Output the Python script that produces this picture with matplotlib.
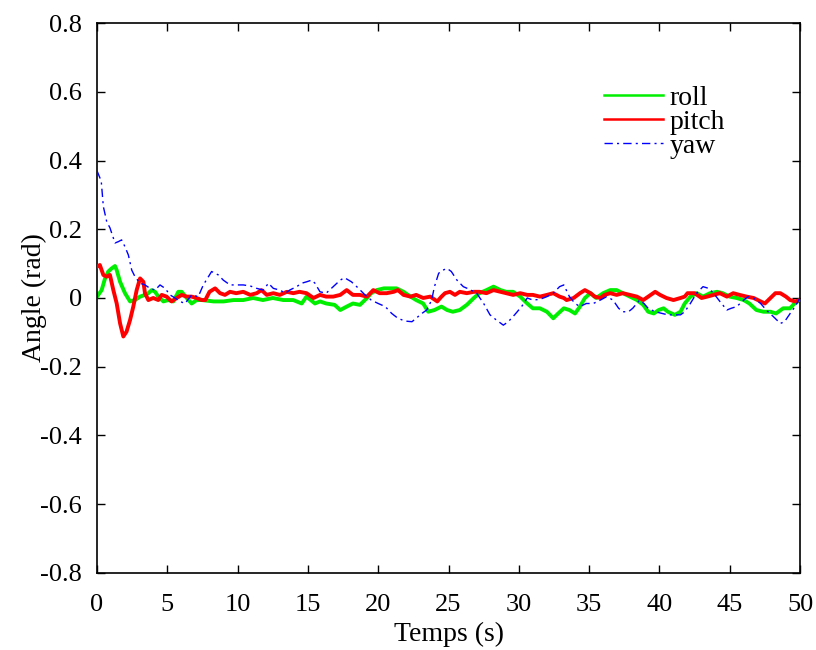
import matplotlib
matplotlib.use("Agg")
import matplotlib.pyplot as plt

# ---- data ----
yaw_t = [0, 0.3, 0.45, 0.69, 0.92, 1.28, 1.52, 1.75, 1.99, 2.23, 2.47, 2.70, 3.06, 3.41, 3.77,
         4.13, 4.48, 4.84, 5.19, 5.55, 5.9, 6.26, 6.73, 7.2, 7.56, 8.15, 8.63, 8.98, 9.46, 9.94,
         10.4, 10.9, 11.36, 11.83, 12.19, 12.54, 13.0, 13.4, 13.7, 14.2, 14.56, 14.9, 15.27, 15.5,
         15.86, 16.3, 16.8, 17.3, 17.6, 18.1, 18.6, 19.06, 19.5, 20.0, 20.5, 20.96, 21.4, 21.9,
         22.4, 22.7, 23.1, 23.45, 23.8, 24.0, 24.3, 24.6, 24.9, 25.2, 25.6, 26.05, 26.5, 27.0,
         27.5, 27.95, 28.4, 28.9, 29.25, 29.7, 30.2, 30.6, 31.0, 31.5, 32.0, 32.45, 32.9, 33.2,
         33.6, 34.0, 34.35, 34.8, 35.3, 35.8, 36.25, 36.7, 37.1, 37.4, 37.8, 38.1, 38.6, 38.9,
         39.2, 39.7, 40.2, 40.6, 41.1, 41.5, 41.8, 42.2, 42.65, 43.1, 43.5, 43.85, 44.3, 44.8,
         45.1, 45.5, 46.0, 46.3, 46.7, 47.2, 47.6, 48.1, 48.6, 48.9, 49.3, 49.65, 50.0]
yaw_v = [0.37, 0.34, 0.266, 0.222, 0.204, 0.16, 0.164, 0.169, 0.149, 0.125, 0.081, 0.062, 0.043,
         0.038, 0.028, 0.023, 0.038, 0.028, 0.009, 0.0, -0.01, -0.016, 0.009, 0.004, 0.038, 0.077,
         0.067, 0.052, 0.038, 0.038, 0.038, 0.035, 0.028, 0.023, 0.043, 0.028, 0.023, 0.014, 0.023,
         0.033, 0.043, 0.047, 0.052, 0.043, 0.018, 0.014, 0.033, 0.052, 0.059, 0.047, 0.028, 0.009,
         -0.006, -0.016, -0.025, -0.045, -0.059, -0.067, -0.069, -0.059, -0.045, -0.035, -0.006,
         0.033, 0.072, 0.081, 0.086, 0.077, 0.052, 0.033, 0.025, 0.014, -0.016, -0.049, -0.064,
         -0.079, -0.069, -0.049, -0.025, 0.0, -0.006, -0.004, 0.004, 0.014, 0.033, 0.038, 0.004,
         -0.016, -0.025, -0.016, -0.016, -0.006, 0.004, -0.006, -0.03, -0.04, -0.04, -0.03, -0.006,
         -0.016, -0.03, -0.04, -0.045, -0.049, -0.049, -0.049, -0.04, -0.016, 0.014, 0.033, 0.028,
         0.014, -0.01, -0.035, -0.03, -0.025, -0.006, 0.004, 0.0, -0.016, -0.035, -0.054, -0.074,
         -0.069, -0.045, -0.025, 0.0]

roll_t = [0, 0.33, 0.57, 0.8, 1.04, 1.28, 1.4, 1.64, 1.99, 2.35, 2.7, 3.06, 3.41, 3.65, 3.89, 4.13,
          4.36, 4.72, 5.07, 5.43, 5.78, 6.02, 6.38, 6.73, 7.09, 7.45, 8.3, 9.0, 9.7, 10.4, 11.1,
          11.8, 12.5, 13.25, 13.96, 14.56, 14.9, 15.5, 15.86, 16.3, 16.9, 17.3, 17.76, 18.2, 18.7,
          19.2, 19.5, 19.9, 20.4, 20.8, 21.3, 21.8, 22.3, 22.7, 23.2, 23.56, 24.0, 24.5, 24.9,
          25.3, 25.8, 26.3, 26.8, 27.2, 27.7, 28.2, 28.7, 29.1, 29.6, 30.1, 30.6, 31.0, 31.5,
          32.0, 32.45, 32.8, 33.2, 33.6, 34.0, 34.35, 34.7, 35.1, 35.5, 36.0, 36.5, 36.96, 37.4,
          37.9, 38.4, 38.85, 39.2, 39.6, 39.95, 40.3, 40.6, 41.1, 41.5, 41.8, 42.2, 42.65, 43.1,
          43.6, 44.1, 44.5, 45.0, 45.5, 46.0, 46.4, 46.9, 47.4, 47.9, 48.3, 48.8, 49.3, 49.6, 50.0]
roll_v = [0.004, 0.023, 0.057, 0.077, 0.086, 0.093, 0.081, 0.047, 0.014, -0.01, -0.006, 0.004,
          0.009, 0.014, 0.023, 0.018, 0.004, -0.01, -0.006, -0.01, 0.018, 0.018, 0.0, -0.016,
          -0.006, -0.006, -0.01, -0.01, -0.006, -0.006, 0.0, -0.006, 0.0, -0.006, -0.006, -0.016,
          0.004, -0.016, -0.01, -0.016, -0.02, -0.035, -0.025, -0.016, -0.02, 0.0, 0.014, 0.023,
          0.028, 0.028, 0.028, 0.018, 0.004, -0.006, -0.016, -0.04, -0.035, -0.025, -0.035, -0.04,
          -0.035, -0.02, 0.0, 0.014, 0.023, 0.033, 0.023, 0.018, 0.018, 0.004, -0.016, -0.03,
          -0.03, -0.04, -0.059, -0.045, -0.03, -0.035, -0.045, -0.025, 0.0, 0.014, 0.0, 0.014,
          0.023, 0.023, 0.014, 0.004, -0.006, -0.02, -0.04, -0.045, -0.035, -0.03, -0.04, -0.049,
          -0.04, -0.016, 0.004, 0.014, 0.004, 0.014, 0.018, 0.014, 0.004, 0.0, -0.006, -0.016,
          -0.035, -0.04, -0.04, -0.045, -0.03, -0.03, -0.016, -0.006]

pitch_t = [0, 0.2, 0.45, 0.69, 0.92, 1.16, 1.4, 1.64, 1.87, 2.1, 2.35, 2.58, 2.82, 3.06, 3.3, 3.41,
           3.65, 4.0, 4.36, 4.6, 4.95, 5.3, 5.67, 6.02, 6.38, 6.73, 7.09, 7.45, 7.7, 8.0, 8.4, 8.75,
           9.1, 9.46, 9.9, 10.4, 10.9, 11.36, 11.7, 12.07, 12.54, 13.0, 13.5, 13.96, 14.4, 14.9,
           15.4, 15.86, 16.3, 16.8, 17.3, 17.76, 18.2, 18.7, 19.2, 19.65, 20.1, 20.6, 21.1, 21.4,
           21.8, 22.3, 22.7, 23.2, 23.7, 24.2, 24.5, 24.75, 25.1, 25.46, 25.8, 26.3, 26.8, 27.2,
           27.7, 28.2, 28.7, 29.1, 29.6, 30.1, 30.6, 31.0, 31.5, 32.0, 32.45, 32.9, 33.2, 33.4,
           33.9, 34.35, 34.7, 35.1, 35.4, 35.8, 36.1, 36.5, 36.96, 37.4, 37.9, 38.4, 38.85, 39.2,
           39.7, 40.05, 40.5, 41.0, 41.5, 41.8, 42.0, 42.5, 43.0, 43.4, 43.85, 44.3, 44.8, 45.25,
           45.7, 46.2, 46.7, 47.2, 47.5, 47.9, 48.25, 48.6, 49.0, 49.3, 49.65, 50.0]
pitch_v = [0.091, 0.096, 0.067, 0.062, 0.067, 0.023, -0.016, -0.074, -0.112, -0.098, -0.064,
           -0.025, 0.023, 0.057, 0.047, 0.014, -0.006, 0.0, -0.006, 0.009, 0.004, -0.01, 0.0,
           0.009, 0.004, 0.004, 0.0, -0.006, -0.006, 0.018, 0.028, 0.014, 0.009, 0.018, 0.014,
           0.018, 0.009, 0.014, 0.023, 0.009, 0.014, 0.009, 0.018, 0.014, 0.018, 0.014, 0.0, 0.009,
           0.004, 0.004, 0.009, 0.023, 0.009, 0.009, 0.004, 0.023, 0.014, 0.014, 0.018, 0.023,
           0.009, 0.004, 0.009, 0.0, 0.004, -0.01, 0.004, 0.014, 0.018, 0.009, 0.018, 0.014, 0.018,
           0.018, 0.014, 0.023, 0.018, 0.014, 0.009, 0.014, 0.009, 0.009, 0.004, 0.009, 0.014,
           0.004, 0.0, -0.006, 0.0, 0.014, 0.023, 0.014, 0.004, 0.0, 0.009, 0.014, 0.009, 0.014,
           0.009, 0.004, -0.006, 0.004, 0.018, 0.009, 0.0, -0.006, 0.0, 0.004, 0.014, 0.014, 0.0,
           0.004, 0.009, 0.014, 0.004, 0.014, 0.009, 0.004, 0.0, -0.01, -0.016, 0.0, 0.014, 0.014,
           0.004, -0.006, -0.01, -0.006]

x_ticks = [0, 5, 10, 15, 20, 25, 30, 35, 40, 45, 50]
y_ticks = [-0.8, -0.6, -0.4, -0.2, 0, 0.2, 0.4, 0.6, 0.8]
y_tick_labels = ["-0.8", "-0.6", "-0.4", "-0.2", "0", "0.2", "0.4", "0.6", "0.8"]

plt.rcParams["font.family"] = ["Liberation Serif", "DejaVu Serif"]

fig = plt.figure(figsize=(8.16, 6.5), dpi=100)
ax = fig.add_axes([0.1189, 0.1185, 0.8615, 0.8461])

ax.plot(roll_t, roll_v, color="#00ee00", lw=2.8, label="roll", zorder=2)
ax.plot(pitch_t, pitch_v, color="#ff0000", lw=2.8, label="pitch", zorder=3)
ax.plot(yaw_t, yaw_v, color="#0000ff", lw=1.0, ls=(0, (6, 3, 1.5, 3)), label="yaw", zorder=4)

ax.set_xlim(0, 50)
ax.set_ylim(-0.8, 0.8)
ax.set_xticks(x_ticks)
ax.set_xticklabels([str(v) for v in x_ticks])
ax.set_yticks(y_ticks)
ax.set_yticklabels(y_tick_labels)
ax.tick_params(direction="in", length=6, width=1, top=True, right=True, labelsize=19)
ax.tick_params(axis="x", pad=15)
ax.tick_params(axis="y", pad=11)
for s in ax.spines.values():
    s.set_linewidth(1.2)

ax.set_xlabel("Temps (s)", fontsize=20, labelpad=4)
ax.set_ylabel("Angle (rad)", fontsize=20, labelpad=-5)

leg = ax.legend(loc="upper right", bbox_to_anchor=(0.909, 0.907), frameon=False,
                fontsize=20, handlelength=2.15, handletextpad=0.22, labelspacing=-0.05,
                borderaxespad=0)
for h in leg.get_lines():
    h.set_linewidth(1.8)
leg.get_lines()[2].set_linewidth(1.0)

fig.savefig("out.png", dpi=100)
